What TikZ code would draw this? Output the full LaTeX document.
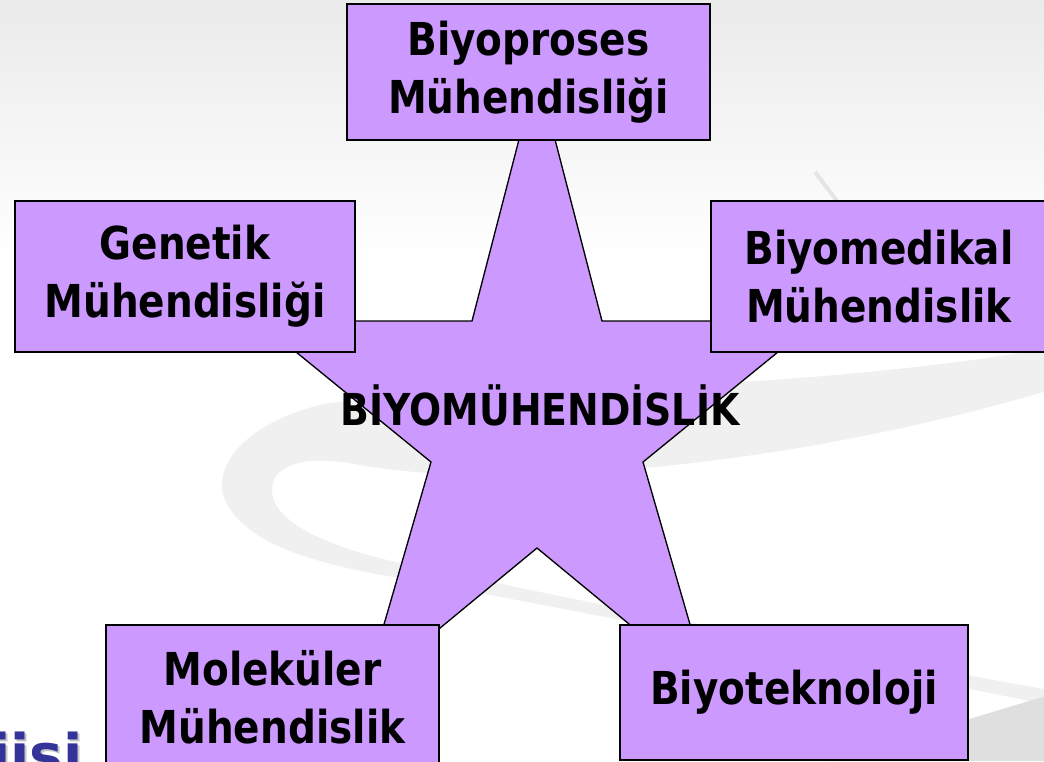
\documentclass[tikz,border=0pt]{standalone}
\usepackage{fontspec}
\usepackage{tikz}
\newfontfamily\boxfont{DejaVu Sans}[FakeStretch=0.86]
\newfontfamily\titlefont{DejaVu Sans}
\definecolor{starfill}{HTML}{CC99FF}
\definecolor{titleblue}{HTML}{333399}

\begin{document}
\begin{tikzpicture}[x=0.75pt,y=-0.75pt,
  field/.style={draw=black, line width=1.2pt, fill=starfill, align=center,
    inner sep=0pt, font=\boxfont\bfseries\fontsize{34}{43.5}\selectfont}]
\useasboundingbox (0,0) rectangle (1044,761);
\clip (0,0) rectangle (1044,761);

% Draw slide background
\fill[white] (0,0) rectangle (1044,761);
\shade[top color=gray!16, bottom color=white] (0,0) rectangle (1044,260);
\fill[gray!12] (1050,348) .. controls (750,400) and (420,385) .. (320,405)
  .. controls (240,425) and (212,470) .. (225,500)
  .. controls (245,545) and (320,565) .. (400,578)
  .. controls (600,615) and (850,665) .. (1050,705)
  -- (1050,690) .. controls (850,655) and (600,605) .. (400,563)
  .. controls (320,545) and (272,520) .. (272,490)
  .. controls (272,462) and (310,455) .. (360,465)
  .. controls (500,490) and (780,470) .. (1050,390) -- cycle;
\fill[gray!25] (830,761) .. controls (920,735) and (990,712) .. (1050,695)
  -- (1050,761) -- cycle;
\draw[gray!20, line width=3pt] (815,172) -- (840,205);

% Draw title fragment
\node[anchor=base east, text=gray!45, font=\titlefont\bfseries\fontsize{42}{50}\selectfont]
  (shadow) at (89,776) {jisi};
\node[anchor=base east, text=titleblue, font=\titlefont\bfseries\fontsize{42}{50}\selectfont]
  (title) at (87,774) {jisi};

% Draw star
\draw[fill=starfill, line width=1pt, line join=miter]
  (537,70) -- (602,321) -- (816,321) -- (643,462) -- (709,690) -- (537,548)
  -- (365,690) -- (431,462) -- (258,321) -- (472,321) -- cycle;
\node[font=\boxfont\bfseries\fontsize{33}{40}\selectfont] (bio) at (540,405) {BİYOMÜHENDİSLİK};

% Draw fields
\node[field, minimum width=272.25pt, minimum height=102pt] (proses) at (528.5,72)
  {Biyoproses\\Mühendisliği};
\node[field, minimum width=255pt, minimum height=113.25pt] (genetik) at (185,276.5)
  {Genetik\\Mühendisliği};
\node[field, minimum width=252pt, minimum height=113.25pt] (medikal) at (879,276.5)
  {Biyomedikal\\Mühendislik};
\node[field, minimum width=249.75pt, minimum height=108.75pt] (molekuler) at (272.5,697.5)
  {Moleküler\\Mühendislik};
\node[field, minimum width=261pt, minimum height=101.25pt] (teknoloji) at (794,692.5)
  {Biyoteknoloji};

\end{tikzpicture}
\end{document}
